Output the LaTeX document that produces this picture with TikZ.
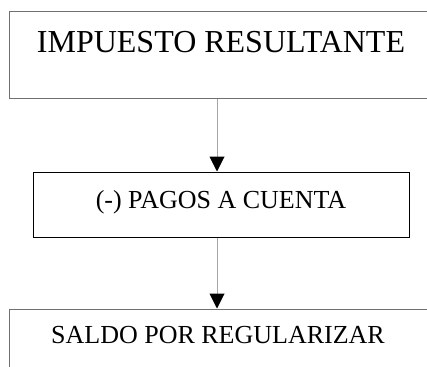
\documentclass[tikz,border=0pt]{standalone}
\usepackage{fontspec}
\setmainfont{Liberation Serif}
\usetikzlibrary{arrows.meta}
\definecolor{boxgray}{HTML}{707070}
\definecolor{linegray}{HTML}{A6A6A6}
\tikzset{
  graybox/.style={draw=boxgray, line width=1pt, rectangle, inner sep=0pt},
  blackbox/.style={draw=black, line width=1pt, rectangle, inner sep=0pt},
  lbl/.style={anchor=base, inner sep=0pt, text=black},
  flow/.style={draw=linegray, line width=1pt, -{Triangle[width=15pt,length=15pt,color=black]}}
}
\begin{document}
\begin{tikzpicture}[x=1pt,y=-1pt]
\useasboundingbox (0,0) rectangle (427,366);
\clip (0,0) rectangle (427,366);
\fill[white] (0,0) rectangle (427,366);
% boxes
\node[graybox, minimum width=430.5pt, minimum height=87pt] (top) at (224.75,55.5) {};
\node[blackbox, minimum width=376pt, minimum height=65pt] (mid) at (221,204.5) {};
\node[graybox, minimum width=430.5pt, minimum height=80pt] (bot) at (224.75,349) {};
% texts
\node[lbl, font=\fontsize{32}{38}\selectfont] (ttop) at (221,53) {IMPUESTO RESULTANTE};
\node[lbl, font=\fontsize{26}{31}\selectfont] (tmid) at (221,208) {(-) PAGOS A CUENTA};
\node[lbl, font=\fontsize{26}{31}\selectfont] (tbot) at (218,343) {SALDO POR REGULARIZAR};
% connectors
\coordinate (ax) at (217,0);
\draw[flow] (top.south -| ax) -- (mid.north -| ax);
\draw[flow] (mid.south -| ax) -- (bot.north -| ax);
\end{tikzpicture}
\end{document}
